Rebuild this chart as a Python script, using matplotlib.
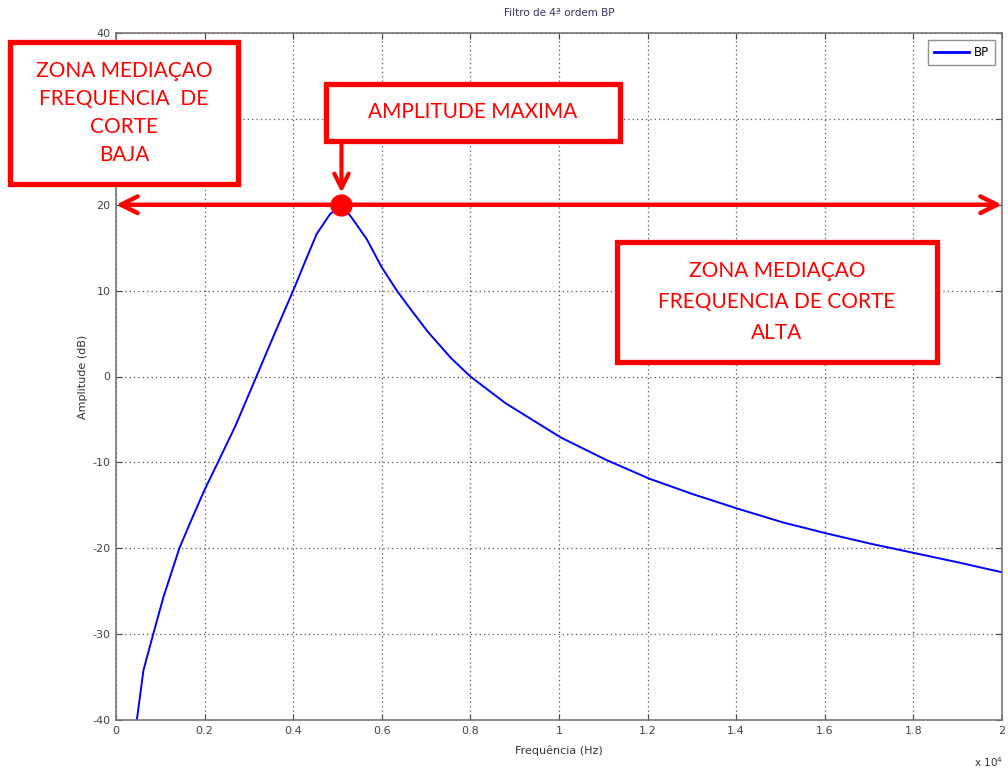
import matplotlib
matplotlib.use("Agg")
import matplotlib.pyplot as plt
from matplotlib.patches import Rectangle

plt.rcParams["axes.unicode_minus"] = False

# response of the 4th order band-pass filter (frequency in Hz, amplitude in dB)
freq_hz = [470, 620, 840, 1070, 1430, 1710, 1990, 2300, 2700, 3170, 3580, 4000,
           4270, 4530, 4830, 5090, 5320, 5660, 6000, 6340, 6640, 7040, 7570, 8000,
           8790, 10040, 11060, 12040, 13020, 14040, 15060, 16060, 17060, 18060,
           19060, 20000]
amp_db = [-40, -34.2, -30, -25.7, -20, -16.6, -13.3, -10, -5.7, 0, 5.0, 10,
          13.4, 16.6, 18.9, 20, 18.5, 16, 12.7, 10, 7.9, 5.2, 2.1, 0,
          -3.1, -7.1, -9.7, -11.9, -13.7, -15.4, -17.0, -18.3, -19.5, -20.6,
          -21.7, -22.8]

x_ticks = list(range(0, 20001, 2000))
x_labels = ["0", "0.2", "0.4", "0.6", "0.8", "1", "1.2", "1.4", "1.6", "1.8", "2"]
y_ticks = list(range(-40, 41, 10))
# the 30 dB label sits under the "BAJA" box
y_labels = ["" if v == 30 else str(v) for v in y_ticks]

peak_i = amp_db.index(max(amp_db))
peak_f, peak_a = freq_hz[peak_i], amp_db[peak_i]

RED = "#ff0000"
W, H = 1008, 773

fig = plt.figure(figsize=(W / 100, H / 100), dpi=100)
ax = fig.add_axes([116 / W, 1 - 720 / H, 886 / W, 687 / H])

ax.plot(freq_hz, amp_db, color="#0000ff", lw=1.4, label="BP")
ax.set_xlim(0, 20000)
ax.set_ylim(-40, 40)
ax.set_xticks(x_ticks)
ax.set_xticklabels(x_labels)
ax.set_yticks(y_ticks)
ax.set_yticklabels(y_labels)
ax.grid(True, color="#555555", linestyle=(0, (1, 2.5)), lw=0.9)
ax.tick_params(direction="in", top=True, right=True, length=4, width=0.8,
               labelsize=8, colors="#444444", pad=4)
for s in ax.spines.values():
    s.set_color("#777777")
    s.set_linewidth(1.2)

ax.set_title("Filtro de 4ª ordem BP", fontsize=7.5, color="#333366", pad=12)
ax.set_xlabel("Frequência (Hz)", fontsize=8, color="#333333", labelpad=7)
ax.set_ylabel("Amplitude (dB)", fontsize=8, color="#333333", labelpad=3)
fig.text(988 / W, 1 - 762 / H, "x 10$^4$", fontsize=7.5, color="#333333",
         ha="center", va="center")

leg = ax.legend(loc="upper right", fontsize=8.5, handlelength=3.0,
                borderpad=0.5, fancybox=False, borderaxespad=0.6,
                handletextpad=0.4)
leg.get_frame().set_edgecolor("#777777")
leg.get_frame().set_linewidth(1.0)
leg.get_lines()[0].set_linewidth(2)

# red markup over the plot
ax.annotate("", xy=(0, peak_a), xytext=(20000, peak_a),
            arrowprops=dict(arrowstyle="<->", color=RED, lw=3.2,
                            mutation_scale=30, shrinkA=0, shrinkB=0),
            annotation_clip=False)
ax.plot([peak_f], [peak_a], "o", color=RED, ms=15, zorder=5, clip_on=False)
ax.annotate("", xy=(peak_f, 21.4), xytext=(peak_f, 27.6),
            arrowprops=dict(arrowstyle="->", color=RED, lw=3.0,
                            mutation_scale=26, shrinkA=0, shrinkB=0),
            annotation_clip=False, zorder=6)

boxes = [
    ((10, 42, 238, 184), "ZONA MEDIAÇAO\nFREQUENCIA  DE\nCORTE\nBAJA", 1.5),
    ((326, 84, 620, 141), "AMPLITUDE MAXIMA", 1.2),
    ((617, 242, 937, 362), "ZONA MEDIAÇAO\nFREQUENCIA DE CORTE\nALTA", 1.7),
]
for (x0, y0, x1, y1), txt, ls in boxes:
    fig.patches.append(Rectangle((x0 / W, 1 - y1 / H), (x1 - x0) / W, (y1 - y0) / H,
                                 transform=fig.transFigure, facecolor="white",
                                 edgecolor=RED, lw=3.8, zorder=10))
    fig.text((x0 + x1) / 2 / W, 1 - (y0 + y1) / 2 / H, txt, ha="center", va="center",
             fontsize=15, color=RED, family=["Lato", "DejaVu Sans"],
             linespacing=ls, zorder=11)

fig.savefig("out.png", dpi=100)
